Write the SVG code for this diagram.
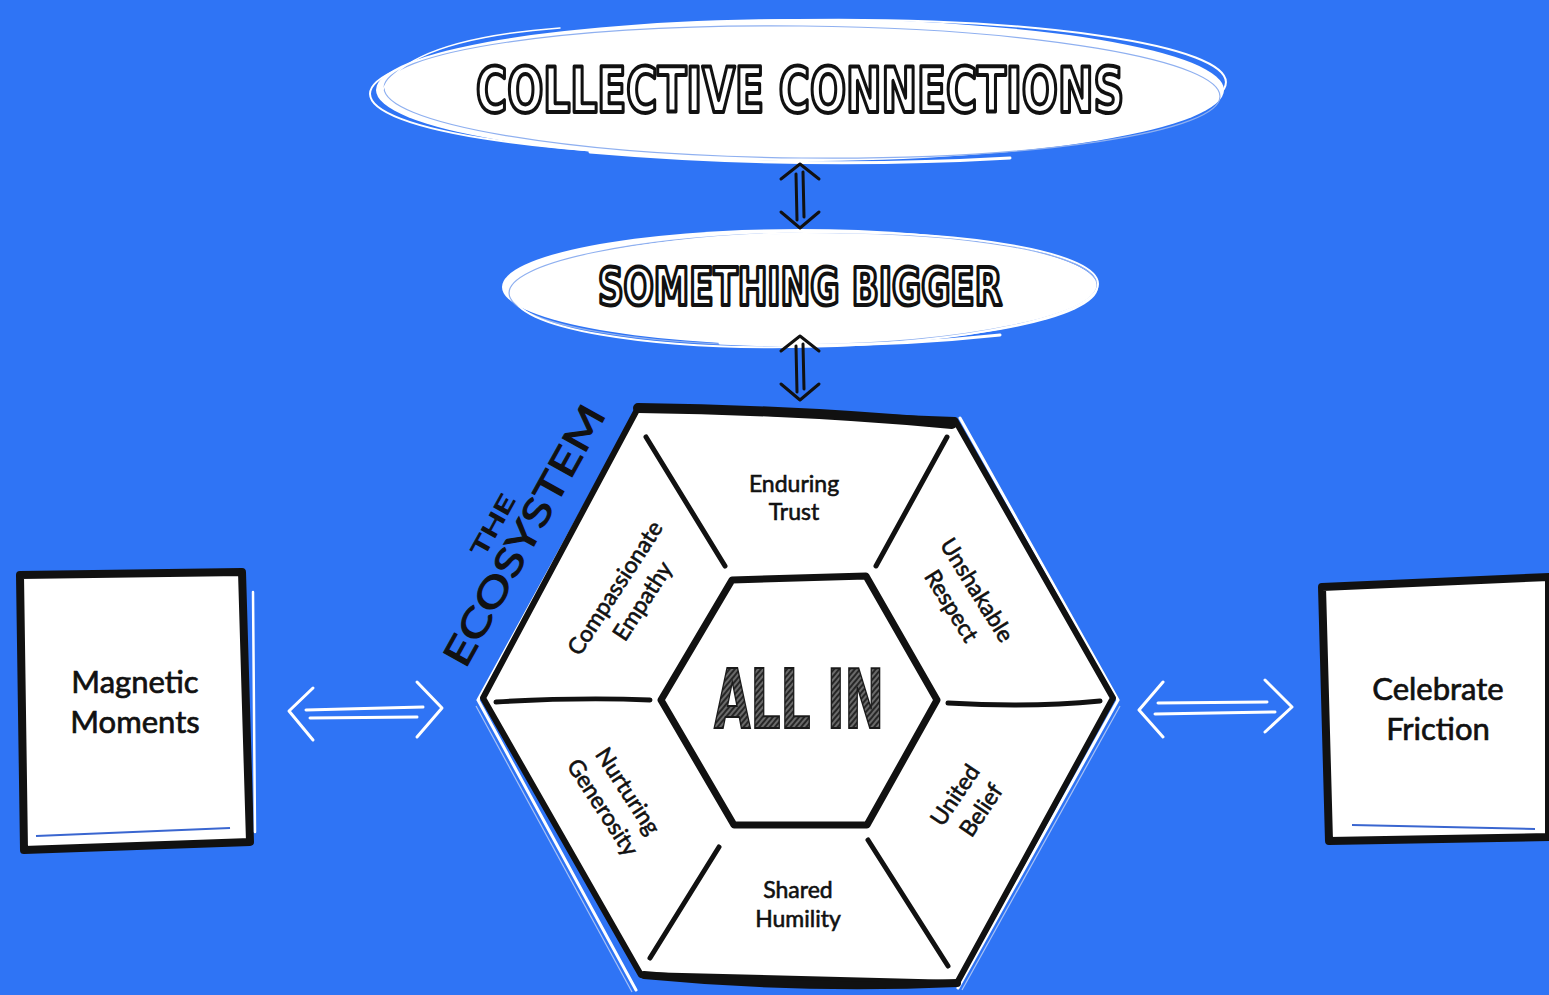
<svg xmlns="http://www.w3.org/2000/svg" width="1549" height="995" viewBox="0 0 1549 995">
  <style>
    .title { font-family: "DejaVu Sans Condensed", "DejaVu Sans", sans-serif; font-weight: bold; fill: #ffffff; stroke: #111111; stroke-width: 4; stroke-linejoin: round; }
    .lbl { font-family: Lato, "Noto Sans", sans-serif; font-size: 23px; fill: #111111; stroke: #111111; stroke-width: 0.6; text-anchor: middle; }
    .box { font-family: Lato, "Noto Sans", sans-serif; font-size: 31px; fill: #111111; stroke: #111111; stroke-width: 0.7; text-anchor: middle; }
    .eco { font-family: Lato, "Noto Sans", sans-serif; fill: #111111; stroke: #111111; stroke-width: 1; text-anchor: middle; }
    .blk { fill: none; stroke: #111111; stroke-linecap: round; stroke-linejoin: round; }
    .shape { fill: #ffffff; stroke: #111111; stroke-linecap: round; stroke-linejoin: round; }
    .wht { fill: none; stroke: #ffffff; stroke-linecap: round; stroke-linejoin: round; }
    .div { fill: none; stroke: #111111; stroke-width: 5; stroke-linecap: round; }
  </style>
  <defs>
    <pattern id="hatch" width="4" height="4" patternUnits="userSpaceOnUse" patternTransform="rotate(40)">
      <rect width="4" height="4" fill="#6a6a6a"/>
      <line x1="1" y1="0" x2="1" y2="4" stroke="#1e1e1e" stroke-width="1.8"/>
    </pattern>
  </defs>

  <rect width="1549" height="995" fill="#2f74f5"/>

  <!-- Collective Connections -->
  <g id="n-collective">
    <ellipse cx="800" cy="90" rx="424" ry="71" fill="#ffffff"/>
    <ellipse cx="798" cy="88" rx="428" ry="68" class="wht" stroke-width="2" transform="rotate(-0.8 800 90)"/>
    <ellipse cx="802" cy="92" rx="418" ry="66" fill="none" stroke="#8fb0f0" stroke-width="1.2" transform="rotate(0.6 800 90)"/>
    <path d="M590,152 Q800,170 1010,158" class="wht" stroke-width="3"/>
    <path d="M380,96 Q400,40 560,28" class="wht" stroke-width="1.5"/>
    <text x="800" y="112" class="title" font-size="62" textLength="648" lengthAdjust="spacingAndGlyphs" text-anchor="middle">COLLECTIVE CONNECTIONS</text>
  </g>

  <!-- Something Bigger -->
  <g id="n-something">
    <ellipse cx="800" cy="287" rx="298" ry="58" fill="#ffffff"/>
    <ellipse cx="803" cy="289" rx="294" ry="56" fill="none" stroke="#8fb0f0" stroke-width="1.2" transform="rotate(-0.8 800 287)"/>
    <ellipse cx="806" cy="290" rx="292" ry="57" class="wht" stroke-width="2" transform="rotate(-1.2 800 287)"/>
    <path d="M720,343 Q860,350 1000,335" class="wht" stroke-width="3"/>
    <text x="800" y="305" class="title" font-size="52" textLength="404" lengthAdjust="spacingAndGlyphs" text-anchor="middle">SOMETHING BIGGER</text>
  </g>

  <!-- The Ecosystem hexagon -->
  <g id="n-ecosystem">
    <path d="M478,700 L636,412 M478,700 L636,990 M1118,700 L958,988 M1118,700 L960,418" class="wht" stroke-width="3"/>
    <path d="M476,706 L632,992" fill="none" stroke="#a8c2f5" stroke-width="1.2"/>
    <path d="M1120,706 L962,990" fill="none" stroke="#a8c2f5" stroke-width="1.2"/>
    <polygon points="638,408 955,420 1113,698 957,983 641,975 483,698" class="shape" stroke-width="6"/>
    <path d="M638,408 Q800,410 952,424" class="blk" stroke-width="10"/>
    <path d="M644,975 Q800,990 957,983" class="blk" stroke-width="8"/>
    <!-- inner hexagon -->
    <polygon points="732,580 866,576 937,700 867,825 734,825 661,700" class="shape" stroke-width="7"/>
    <!-- dividers -->
    <path d="M646,437 L725,566" class="div"/>
    <path d="M947,437 L876,566" class="div"/>
    <path d="M496,702 Q580,697 650,700" class="div"/>
    <path d="M948,703 Q1030,708 1100,701" class="div"/>
    <path d="M719,847 L650,958" class="div"/>
    <path d="M868,840 L948,966" class="div"/>
    <!-- center -->
    <text x="799" y="728" font-family="'DejaVu Sans Condensed', 'DejaVu Sans', sans-serif" font-weight="bold" font-size="82" textLength="170" lengthAdjust="spacingAndGlyphs" text-anchor="middle" fill="url(#hatch)" stroke="#1a1a1a" stroke-width="2">ALL IN</text>
    <!-- segment labels -->
    <text class="lbl" x="794" y="492">Enduring</text>
    <text class="lbl" x="794" y="520">Trust</text>
    <text class="lbl" x="798" y="898">Shared</text>
    <text class="lbl" x="798" y="927">Humility</text>
    <g transform="translate(615,588) rotate(-57)">
      <text class="lbl" x="0" y="8">Compassionate</text>
      <text class="lbl" x="4" y="38">Empathy</text>
    </g>
    <g transform="translate(977,590) rotate(58)">
      <text class="lbl" x="0" y="8">Unshakable</text>
      <text class="lbl" x="0" y="38">Respect</text>
    </g>
    <g transform="translate(628,791) rotate(57)">
      <text class="lbl" x="0" y="8">Nurturing</text>
      <text class="lbl" x="0" y="38">Generosity</text>
    </g>
    <g transform="translate(955,795) rotate(-56)">
      <text class="lbl" x="0" y="8">United</text>
      <text class="lbl" x="2" y="38">Belief</text>
    </g>
    <!-- the ecosystem label -->
    <g transform="translate(536,542) rotate(-61)">
      <text class="eco" x="0" y="0" font-size="38" textLength="292" lengthAdjust="spacingAndGlyphs">ECOSYSTEM</text>
      <text class="eco" x="-6" y="-38" font-size="22" textLength="66" lengthAdjust="spacingAndGlyphs">THE</text>
    </g>
  </g>

  <!-- Magnetic Moments -->
  <g id="n-magnetic">
    <path d="M20,575 L242,572 L250,842 L24,850 Z" class="shape" stroke-width="8"/>
    <path d="M253,592 L255,832" class="wht" stroke-width="2.5"/>
    <path d="M36,836 L230,828" fill="none" stroke="#3a66d0" stroke-width="2"/>
    <text class="box" x="135" y="693">Magnetic</text>
    <text class="box" x="135" y="733">Moments</text>
  </g>

  <!-- Celebrate Friction -->
  <g id="n-celebrate">
    <path d="M1322,587 L1549,577 L1549,837 L1329,841 Z" class="shape" stroke-width="8"/>
    <path d="M1352,825 L1535,829" fill="none" stroke="#3a66d0" stroke-width="2"/>
    <text class="box" x="1438" y="700">Celebrate</text>
    <text class="box" x="1438" y="740">Friction</text>
  </g>

  <!-- connectors -->
  <g id="connectors">
    <path d="M781,179 L800,164 L819,179 M781,212 L800,228 L819,212 M796,174 L797,220 M803,172 L804,217" class="blk" stroke-width="3"/>
    <path d="M781,351 L800,336 L819,351 M781,384 L800,400 L819,384 M796,346 L797,392 M803,344 L804,389" class="blk" stroke-width="3"/>
    <path d="M313,688 L289,711 L313,740 M417,682 L442,708 L417,737 M306,710 L423,707 M310,718 L417,717" class="wht" stroke-width="3"/>
    <path d="M1163,682 L1139,710 L1163,737 M1265,680 L1292,707 L1265,732 M1158,703 L1267,702 M1155,714 L1275,712" class="wht" stroke-width="3"/>
  </g>
</svg>
